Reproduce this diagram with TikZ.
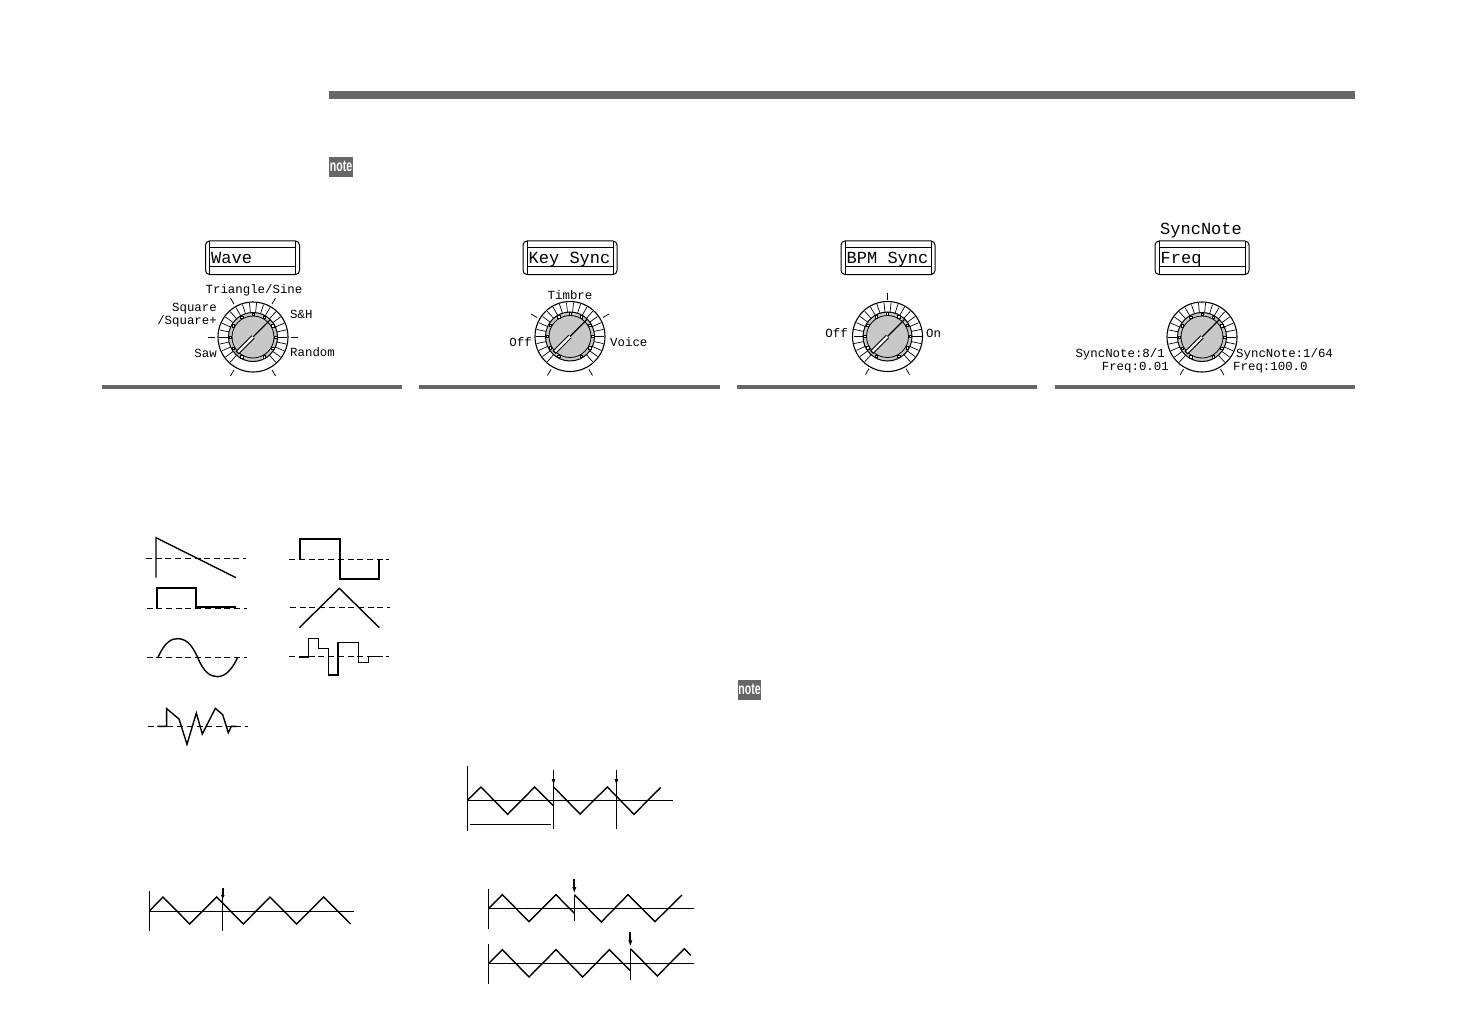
\documentclass[tikz,border=0pt]{standalone}
\usepackage{fontspec}
\setmainfont{Liberation Sans}
\newfontfamily\lcdfont{Liberation Mono}
\newcommand{\smalllcd}{\lcdfont\fontsize{12.4}{14}\selectfont}
\newcommand{\biglcd}{\lcdfont\fontsize{17}{19}\selectfont}
\definecolor{rulegray}{HTML}{666666}
\definecolor{knobgray}{HTML}{C8C8C8}
\tikzset{
  ruleband/.style={fill=rulegray,draw=none},
  knobtext/.style={inner sep=0pt,font=\smalllcd},
  lcdtext/.style={inner sep=0pt,anchor=base west,font=\biglcd},
  notetext/.style={white,inner sep=0pt,font=\bfseries\fontsize{16}{16}\selectfont,xscale=.66},
  wave/.style={line width=1.4pt,line join=miter},
  thickwave/.style={line width=2.2pt,line join=miter},
  base/.style={line width=1.1pt},
  dashbase/.style={line width=1pt,dash pattern=on 6pt off 3.7pt},
  marker/.style={line width=1.2pt},
  knobtick/.style={line width=.8pt},
}
% \lcdbox{name}{cx}{text}
\newcommand{\lcdbox}[3]{%
  \draw[line width=1pt,rounded corners=4pt] (#2-47,241) rectangle (#2+47,274.5);
  \draw[line width=1pt,fill=white] (#2-43,247.5) rectangle (#2+43,267);
  \draw[line width=.8pt] (#2-43,241) -- (#2-43,274.5);
  \draw[line width=.8pt] (#2+43,241) -- (#2+43,274.5);
  \node[lcdtext] (#1) at (#2-41.5,263.5) {#3};
}
% \knob{cx}{cy}
\newcommand{\knob}[2]{%
  \begin{scope}[shift={(#1,#2)}]
    \draw[line width=1.1pt,fill=white] (0,0) circle (35);
    \foreach \a in {132,144,...,408} {
      \draw[line width=.7pt] (\a:24.5) -- (\a:34);
    }
    \fill[knobgray] (0,0) circle (24.5);
    \draw[line width=1pt] (0,0) circle (24.5);
    \draw[line width=.8pt] (0,0) circle (21);
    \foreach \a in {120,150,...,420} {
      \draw[line width=.6pt,fill=white] (\a:22.7) ++(-1.2,-1.2) rectangle ++(2.4,2.4);
    }
    \draw[line width=4.4pt] (-16,16) -- (0,0);
    \draw[line width=2.4pt,white] (-15,15) -- (0,0);
    \draw[line width=1.2pt] (0,0) -- (17,-17);
  \end{scope}}
\begin{document}
\begin{tikzpicture}[x=1pt,y=-1pt]
\useasboundingbox (0,0) rectangle (1458,1032);
\fill[white] (0,0) rectangle (1458,1032);
% header rule and note icons
\fill[ruleband] (329,91) rectangle (1355,99);
\fill[ruleband] (329,157) rectangle (353,177);
\node[notetext] (noteA) at (341,166.5) {note};
\fill[ruleband] (738,680) rectangle (761,700);
\node[notetext] (noteB) at (749.5,689.5) {note};
% section rules
\fill[ruleband] (102,385) rectangle (402,389);
\fill[ruleband] (419,385) rectangle (720,389);
\fill[ruleband] (737,385) rectangle (1037,389);
\fill[ruleband] (1055,385) rectangle (1355,389);
% LCD boxes
\lcdbox{lcdWave}{252.5}{Wave}
\lcdbox{lcdKey}{570}{Key Sync}
\lcdbox{lcdBpm}{888}{BPM Sync}
\lcdbox{lcdFreq}{1202}{Freq}
\node[inner sep=0pt,font=\biglcd,anchor=base] (syncnote) at (1201,235) {SyncNote};
% knobs
\knob{253}{337}
\knob{570}{336.5}
\knob{887.5}{336.5}
\knob{1202}{337}
% Wave knob ticks
\foreach \a in {0,60,120,180,-120,-60} \draw[knobtick] (253,337) ++(\a:38) -- ++(\a:7);
% Key Sync ticks
\foreach \a in {-30,-150,120,60} \draw[knobtick] (570,336.5) ++(\a:38) -- ++(\a:7);
% BPM ticks
\foreach \a in {-90,120,60} \draw[knobtick] (887.5,336.5) ++(\a:37) -- ++(\a:7);
% Freq ticks
\foreach \a in {120,60} \draw[knobtick] (1202,337) ++(\a:37) -- ++(\a:7);
% knob labels
\node[knobtext] (tTri) at (254,290) {Triangle/Sine};
\node[knobtext,anchor=east] (tSq) at (217,309) {Square};
\node[knobtext,anchor=east] (tSqp) at (217,321) {/Square+};
\node[knobtext,anchor=west] (tSH) at (290,314) {S\&H};
\node[knobtext,anchor=east] (tSaw) at (217,353) {Saw};
\node[knobtext,anchor=west] (tRnd) at (290,352) {Random};
\node[knobtext] (tTim) at (570,295) {Timbre};
\node[knobtext,anchor=east] (tOff) at (532,342) {Off};
\node[knobtext,anchor=west] (tVoi) at (610,342) {Voice};
\node[knobtext,anchor=east] (tOffb) at (848,333) {Off};
\node[knobtext,anchor=west] (tOn) at (926,333) {On};
\node[knobtext,anchor=east] (tS8) at (1165,354) {SyncNote:8/1};
\node[knobtext,anchor=east] (tF1) at (1169,368) {Freq:0.01};
\node[knobtext,anchor=west] (tS64) at (1236,354) {SyncNote:1/64};
\node[knobtext,anchor=west] (tF2) at (1233,368) {Freq:100.0};
% waveform table
\begin{scope}[shift={(130,525)},x=1/3*1pt,y=-1/3*1pt]
  \draw[dashbase] (48,100) -- (348,100);
  \draw[dashbase] (478,102) -- (778,102);
  \draw[dashbase] (50,249) -- (350,249);
  \draw[dashbase] (480,246) -- (780,246);
  \draw[dashbase] (50,397) -- (350,397);
  \draw[dashbase] (478,394) -- (778,394);
  \draw[dashbase] (54,604) -- (354,604);
  \draw[wave] (78,158) -- (78,38) -- (318,158);
  \draw[thickwave] (509,102) -- (509,42) -- (629,42) -- (629,161) -- (748,161) -- (748,102);
  \draw[thickwave] (80,249) -- (80,188) -- (197,188) -- (197,247) -- (318,247);
  \draw[wave] (508,308) -- (628,190) -- (748,308);
  \draw[wave] (84,397) .. controls (105,350) and (125,340) .. (145,341)
     .. controls (175,342) and (190,370) .. (203,397)
     .. controls (220,440) and (240,455) .. (262,455)
     .. controls (290,455) and (310,425) .. (322,399);
  \draw[wave] (506,396) -- (536,396) -- (536,341) -- (566,341) -- (566,371) -- (595,371) -- (595,450) -- (624,450) -- (624,353) -- (686,353) -- (686,413) -- (715,413) -- (715,395) -- (745,395);
  \draw[wave] (82,604) -- (110,604) -- (110,551) -- (147,582) -- (171,658) -- (199,564) -- (217,627) -- (256,550) -- (278,569) -- (295,623) -- (304,604) -- (320,604);
\end{scope}
% trigger diagrams
\begin{scope}[shift={(450,755)},x=1/3*1pt,y=-1/3*1pt]
  \draw[base] (52,34) -- (52,228);
  \draw[base] (52,136) -- (668,136);
  \draw[wave] (52,136) -- (93,96) -- (173,178) -- (254,96) -- (310,152);
  \draw[wave] (311,96) -- (390,177) -- (472,96) -- (552,178) -- (632,97);
  \draw[base] (311,46) -- (311,222);
  \draw[base] (499,46) -- (499,222);
  \fill (305,72) -- (316,72) -- (311,88) -- cycle;
  \fill (494,72) -- (505,72) -- (499,88) -- cycle;
  \draw[marker] (60,208) -- (302,208);
  % second
  \draw[base] (116,402) -- (116,522);
  \draw[base] (116,460) -- (732,460);
  \draw[wave] (116,460) -- (157,419) -- (237,500) -- (318,419) -- (373,475);
  \draw[wave] (373,419) -- (454,501) -- (534,419) -- (615,500) -- (696,420);
  \draw[base] (373,419) -- (373,498);
  \draw[line width=2pt] (373,372) -- (373,398);
  \fill (367,396) -- (379,396) -- (373,412) -- cycle;
  % third
  \draw[base] (116,567) -- (116,687);
  \draw[base] (116,625) -- (732,625);
  \draw[wave] (116,625) -- (157,584) -- (237,666) -- (318,584) -- (398,666) -- (478,584) -- (541,647);
  \draw[wave] (541,581) -- (622,663) -- (703,581) -- (722,601);
  \draw[base] (541,581) -- (541,675);
  \draw[line width=2pt] (541,531) -- (541,558);
  \fill (535,556) -- (547,556) -- (541,572) -- cycle;
\end{scope}
\begin{scope}[shift={(140,875)},x=1/3*1pt,y=-1/3*1pt]
  \draw[base] (28,48) -- (28,168);
  \draw[base] (28,109) -- (642,109);
  \draw[wave] (28,108) -- (69,66) -- (149,147) -- (230,66) -- (310,147) -- (390,66) -- (470,147) -- (551,66) -- (632,147);
  \draw[base] (247,60) -- (247,168);
  \draw[line width=2pt] (248,40) -- (248,62);
  \fill (243,60) -- (254,60) -- (248,72) -- cycle;
\end{scope}
\end{tikzpicture}
\end{document}
